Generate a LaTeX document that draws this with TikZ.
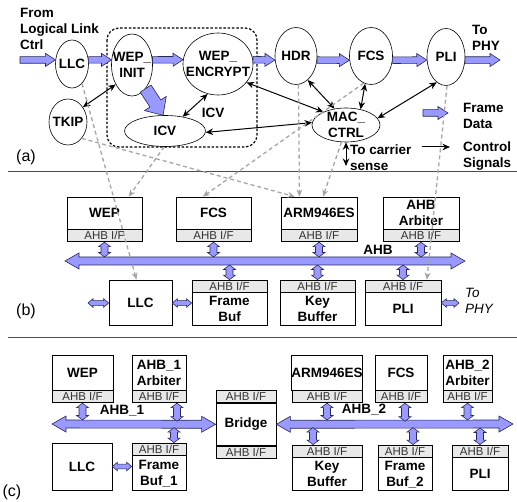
\documentclass[tikz,border=0pt]{standalone}
\usepackage{fontspec}
\setmainfont{Liberation Sans}
\usetikzlibrary{calc,shapes.geometric,arrows.meta}

\definecolor{fatblue}{RGB}{153,153,255}
\definecolor{fatedge}{RGB}{40,40,90}
\definecolor{ifgray}{RGB}{232,232,232}
\definecolor{feedgray}{RGB}{165,165,165}

\tikzset{
  lbl/.style={font=\fontsize{13.5}{16}\selectfont\bfseries, align=center, inner sep=0pt},
  blob/.style={ellipse, draw, line width=0.6pt, inner sep=0pt},
  modbox/.style={draw, line width=0.8pt, lbl},
  ifbar/.style={draw, line width=0.8pt, fill=ifgray, inner sep=0pt, minimum height=12pt,
    font=\fontsize{11.5}{12}\selectfont, text=black!80},
  fat/.style={fill=fatblue, draw=fatedge, line width=0.6pt, line join=miter},
  ctrl/.style={line width=1pt, {Stealth[length=7.5pt,width=6.5pt]}-{Stealth[length=7.5pt,width=6.5pt]}},
  ctrlone/.style={line width=1pt, -{Stealth[length=7.5pt,width=6.5pt]}},
  feed/.style={draw=feedgray, line width=1.3pt, dash pattern=on 4pt off 3pt,
    -{Stealth[length=7pt,width=6pt,fill=feedgray]}},
  tag/.style={font=\fontsize{16}{18}\selectfont, inner sep=0pt},
}

% fat single arrow: from, to, half shaft, half head, head length
\newcommand\fatone[5]{%
  \coordinate (fa) at (#1);
  \coordinate (fb) at (#2);
  \coordinate (fh) at ($(fb)!#5pt!(fa)$);
  \filldraw[fat] ($(fa)!#3pt!90:(fb)$) -- ($(fh)!#3pt!90:(fb)$) -- ($(fh)!#4pt!90:(fb)$) -- (fb)
    -- ($(fh)!#4pt!-90:(fb)$) -- ($(fh)!#3pt!-90:(fb)$) -- ($(fa)!#3pt!-90:(fb)$) -- cycle;}
% fat double arrow
\newcommand\fattwo[5]{%
  \coordinate (fa) at (#1);
  \coordinate (fb) at (#2);
  \coordinate (fha) at ($(fa)!#5pt!(fb)$);
  \coordinate (fhb) at ($(fb)!#5pt!(fa)$);
  \filldraw[fat] (fa) -- ($(fha)!#4pt!90:(fb)$) -- ($(fha)!#3pt!90:(fb)$) -- ($(fhb)!#3pt!-90:(fa)$)
    -- ($(fhb)!#4pt!-90:(fa)$) -- (fb) -- ($(fhb)!#4pt!90:(fa)$) -- ($(fhb)!#3pt!90:(fa)$)
    -- ($(fha)!#3pt!-90:(fb)$) -- ($(fha)!#4pt!-90:(fb)$) -- cycle;}
\newcommand\framearr[2]{\fatone{#1}{#2}{3.3}{6.5}{10}}
\newcommand\busarr[2]{\fattwo{#1}{#2}{4}{8}{14}}
\newcommand\ifarr[2]{\fattwo{#1}{#2}{3.5}{6}{4.5}}
\newcommand\sidearr[2]{\fattwo{#1}{#2}{2.4}{4.3}{5}}

\begin{document}
\begin{tikzpicture}[x=1pt,y=-1pt]
\useasboundingbox (0,0) rectangle (517,502);

% ---------- (a) process graph
\node[blob, minimum width=33pt, minimum height=48pt, label={[lbl]center:LLC}] (llc) at (72,64) {};
\node[blob, minimum width=41pt, minimum height=62pt, label={[lbl]center:WEP\_\\INIT}] (wepinit) at (132,65) {};
\node[blob, minimum width=70pt, minimum height=62pt, label={[lbl]center:WEP\_\\ENCRYPT}] (wepenc) at (218,64) {};
\node[blob, minimum width=38pt, minimum height=46pt, label={[lbl]center:TKIP}] (tkip) at (68,122) {};
\node[blob, minimum width=81pt, minimum height=31pt, label={[lbl]center:ICV}] (icv) at (165,131) {};
\node[blob, minimum width=42pt, minimum height=57pt, label={[lbl]center:HDR}] (hdr) at (296,56) {};
\node[blob, minimum width=43pt, minimum height=57pt, label={[lbl]center:FCS}] (fcs) at (371,56) {};
\node[blob, minimum width=38pt, minimum height=57pt, label={[lbl]center:PLI}] (pli) at (446,57) {};
\node[blob, minimum width=68pt, minimum height=34pt, label={[lbl]center:MAC\_\\CTRL}] (macctrl) at (346,125) {};
\draw[line width=1.2pt, dash pattern=on 2.5pt off 1.8pt, rounded corners=12pt] (107,28) rectangle (257,147);
\node[lbl] (icvtag) at (213,113) {ICV};

\node[lbl, align=left, anchor=north west] (src) at (20,8) {From\\Logical Link\\Ctrl};
\node[lbl, align=left, anchor=north west] (phya) at (472,25) {To\\PHY};
\node[lbl, align=left, anchor=north west] (cstag) at (350,145) {To carrier\\sense};
\node[lbl, align=left, anchor=north west] (lgfd) at (463,103) {Frame\\Data};
\node[lbl, align=left, anchor=north west] (lgcs) at (463,142) {Control\\Signals};
\node[tag] (taga) at (26,157) {(a)};

\coordinate (fin) at (20,60);
\coordinate (fout) at (500,60);
\framearr{fin}{llc.166}
\framearr{llc.14}{wepinit.166}
\framearr{wepinit.14}{wepenc.173}
\framearr{wepenc.7}{hdr.191}
\framearr{hdr.-11}{fcs.191}
\framearr{fcs.-11}{pli.189}
\framearr{pli.-9}{fout}
\fatone{wepinit.-60}{icv.97}{6.5}{13}{14}
\coordinate (lfa) at (423,113);
\coordinate (lfb) at (448,113);
\framearr{lfa}{lfb}

\draw[ctrl] (wepinit.-130) -- (tkip.45);
\draw[ctrl] (wepenc.-109) -- (icv.39);
\draw[ctrl] (wepenc.-33) -- (macctrl.150);
\draw[ctrl] (icv.-2) -- (macctrl.176);
\draw[ctrl] (hdr.-64) -- (macctrl.125);
\draw[ctrl] (fcs.-102) -- (macctrl.47);
\draw[ctrl] (pli.-110) -- (macctrl.12);
\coordinate (cs) at (346,166);
\draw[ctrl] (macctrl.south) -- (cs);
\coordinate (lca) at (422,147);
\coordinate (lcb) at (450,147);
\draw[ctrlone] (lca) -- (lcb);

\draw[line width=0.9pt, black!70] (8,171) -- (517,171);

% ---------- (b) single AHB
\node[modbox, minimum width=75pt, minimum height=32pt] (bwep) at (104.5,213) {WEP};
\node[ifbar, minimum width=75pt, anchor=north] (bwepif) at (bwep.south) {AHB I/F};
\node[modbox, minimum width=75pt, minimum height=32pt] (bfcs) at (213.5,213) {FCS};
\node[ifbar, minimum width=75pt, anchor=north] (bfcsif) at (bfcs.south) {AHB I/F};
\node[modbox, minimum width=76pt, minimum height=32pt] (barm) at (319,213) {ARM946ES};
\node[ifbar, minimum width=76pt, anchor=north] (barmif) at (barm.south) {AHB I/F};
\node[modbox, minimum width=76pt, minimum height=32pt] (barb) at (421,213) {AHB\\Arbiter};
\node[ifbar, minimum width=76pt, anchor=north] (barbif) at (barb.south) {AHB I/F};

\node[modbox, minimum width=63pt, minimum height=45pt] (bllc) at (140.5,302.5) {LLC};
\node[ifbar, minimum width=75pt] (bfbif) at (229.5,286) {AHB I/F};
\node[modbox, minimum width=75pt, minimum height=33pt, anchor=north] (bfb) at (bfbif.south) {Frame\\Buf};
\node[ifbar, minimum width=75pt] (bkeyif) at (317.5,286) {AHB I/F};
\node[modbox, minimum width=75pt, minimum height=33pt, anchor=north] (bkey) at (bkeyif.south) {Key\\Buffer};
\node[ifbar, minimum width=76pt] (bpliif) at (403,286) {AHB I/F};
\node[modbox, minimum width=76pt, minimum height=33pt, anchor=north] (bpli) at (bpliif.south) {PLI};

\coordinate (bL) at (65,261);
\coordinate (bR) at (465,261);
\coordinate (bT) at (0,257);
\coordinate (bB) at (0,265);
\busarr{bL}{bR}
\node[lbl] (ahbtag) at (378,250) {AHB};
\ifarr{bwepif.south}{bwepif.south |- bT}
\ifarr{bfcsif.south}{bfcsif.south |- bT}
\ifarr{barmif.south}{barmif.south |- bT}
\ifarr{barbif.south}{barbif.south |- bT}
\ifarr{bfbif.north |- bB}{bfbif.north}
\ifarr{bkeyif.north |- bB}{bkeyif.north}
\ifarr{bpliif.north |- bB}{bpliif.north}

\coordinate (bl0) at (88,303);
\coordinate (bphy) at (459,303);
\sidearr{bl0}{bl0 -| bllc.west}
\sidearr{bl0 -| bllc.east}{bl0 -| bfb.west}
\sidearr{bphy -| bpli.east}{bphy}
\node[anchor=north west, inner sep=0pt, align=left, font=\fontsize{13.5}{16}\selectfont\itshape] (phyb) at (465,288) {To\\PHY};
\node[tag] (tagb) at (26,311) {(b)};

\draw[line width=0.9pt, black!70] (8,337) -- (517,337);

% ---------- (c) two AHBs with bridge
\node[modbox, minimum width=61pt, minimum height=35pt] (cwep) at (82.5,372.5) {WEP};
\node[ifbar, minimum width=61pt, anchor=north] (cwepif) at (cwep.south) {AHB I/F};
\node[modbox, minimum width=54pt, minimum height=35pt] (carb1) at (159,372.5) {AHB\_1\\Arbiter};
\node[ifbar, minimum width=54pt, anchor=north] (carb1if) at (carb1.south) {AHB I/F};
\node[modbox, minimum width=70pt, minimum height=35pt] (carm) at (327,372.5) {ARM946ES};
\node[ifbar, minimum width=70pt, anchor=north] (carmif) at (carm.south) {AHB I/F};
\node[modbox, minimum width=52pt, minimum height=35pt] (cfcs) at (401,372.5) {FCS};
\node[ifbar, minimum width=52pt, anchor=north] (cfcsif) at (cfcs.south) {AHB I/F};
\node[modbox, minimum width=49pt, minimum height=35pt] (carb2) at (467.5,372.5) {AHB\_2\\Arbiter};
\node[ifbar, minimum width=49pt, anchor=north] (carb2if) at (carb2.south) {AHB I/F};

\node[ifbar, minimum width=60pt] (cbrgt) at (246,396.5) {AHB I/F};
\node[modbox, minimum width=60pt, minimum height=42pt, anchor=north] (cbrg) at (cbrgt.south) {Bridge};
\node[ifbar, minimum width=60pt, anchor=north] (cbrgb) at (cbrg.south) {AHB I/F};

\node[modbox, minimum width=60pt, minimum height=47pt] (cllc) at (82,466.5) {LLC};
\node[ifbar, minimum width=54pt] (cfb1if) at (159,449) {AHB I/F};
\node[modbox, minimum width=54pt, minimum height=35pt, anchor=north] (cfb1) at (cfb1if.south) {Frame\\Buf\_1};
\node[ifbar, minimum width=70pt] (ckeyif) at (327,451) {AHB I/F};
\node[modbox, minimum width=70pt, minimum height=33pt, anchor=north] (ckey) at (ckeyif.south) {Key\\Buffer};
\node[ifbar, minimum width=54pt] (cfb2if) at (405,451) {AHB I/F};
\node[modbox, minimum width=54pt, minimum height=33pt, anchor=north] (cfb2) at (cfb2if.south) {Frame\\Buf\_2};
\node[ifbar, minimum width=56pt] (cpliif) at (480,451) {AHB I/F};
\node[modbox, minimum width=56pt, minimum height=33pt, anchor=north] (cpli) at (cpliif.south) {PLI};

\coordinate (c1L) at (52,424);
\coordinate (c2R) at (513,424);
\coordinate (cT) at (0,420);
\coordinate (cB) at (0,428);
\busarr{c1L}{cbrg.west}
\busarr{cbrg.east}{c2R}
\node[lbl] (ahb1tag) at (122,411) {AHB\_1};
\node[lbl] (ahb2tag) at (364,410) {AHB\_2};
\ifarr{cwepif.south}{cwepif.south |- cT}
\ifarr{$(carb1if.south)+(18,0)$}{$(carb1if.south)+(18,18)$}
\ifarr{carmif.south}{carmif.south |- cT}
\ifarr{$(cfcsif.south)+(4,0)$}{$(cfcsif.south)+(4,18)$}
\ifarr{carb2if.south}{carb2if.south |- cT}
\ifarr{$(cfb1if.north)+(15,-15)$}{$(cfb1if.north)+(15,0)$}
\ifarr{$(ckeyif.north)+(-14,-17)$}{$(ckeyif.north)+(-14,0)$}
\ifarr{$(cfb2if.north)+(8,-17)$}{$(cfb2if.north)+(8,0)$}
\ifarr{cpliif.north |- cB}{cpliif.north}
\sidearr{cllc.east}{cllc.east -| cfb1.west}
\node[tag] (tagc) at (12,492) {(c)};

% ---------- mapping of (a) onto (b)
\draw[feed] (llc.-63) -- (bllc.100);
\draw[feed] (icv.-93) -- (bwep.34);
\draw[feed] (tkip.-50) -- (barm.146);
\draw[feed] (fcs.-105) -- (bfcs.123);
\draw[feed] (hdr.-85) -- (barm.140);
\draw[feed] (macctrl.-105) -- (barm.76);
\draw[feed] (pli.-88) -- (bpliif.15);
\end{tikzpicture}
\end{document}
